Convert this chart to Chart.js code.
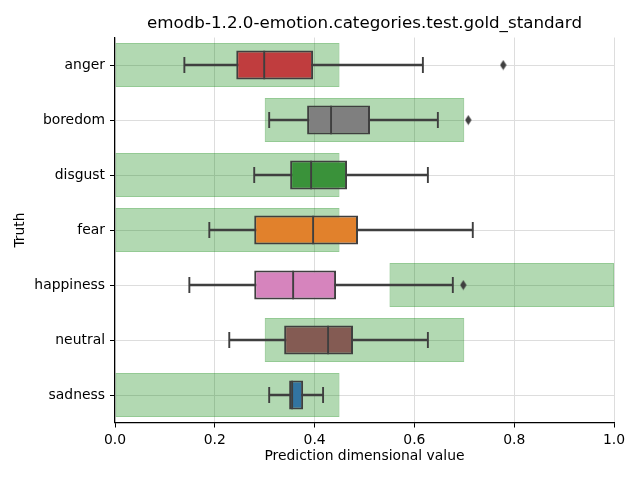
<!DOCTYPE html>
<html>
<head>
<meta charset="utf-8">
<script src="https://cdn.jsdelivr.net/npm/chart.js@4/dist/chart.umd.min.js"></script>
<style>
  html, body { margin: 0; padding: 0; background: #ffffff; }
  #wrap { width: 640px; height: 480px; }
</style>
</head>
<body>
<div id="wrap"><canvas id="c" width="640" height="480"></canvas></div>
<script>
// ---- data ----
const categories = ["anger", "boredom", "disgust", "fear", "happiness", "neutral", "sadness"];
const whiskerLow  = [0.139, 0.309, 0.279, 0.189, 0.149, 0.229, 0.309];
const q1          = [0.243, 0.385, 0.351, 0.279, 0.279, 0.339, 0.349];
const median      = [0.299, 0.433, 0.393, 0.397, 0.357, 0.427, 0.355];
const q3          = [0.397, 0.511, 0.465, 0.487, 0.443, 0.477, 0.377];
const whiskerHigh = [0.617, 0.647, 0.627, 0.717, 0.677, 0.627, 0.417];
const outlierCats = ["anger", "boredom", "happiness"];
const outlierVals = [0.778, 0.708, 0.698];
const bandStart   = [0.0, 0.3, 0.0, 0.0, 0.55, 0.3, 0.0];
const bandEnd     = [0.45, 0.7, 0.45, 0.45, 1.0, 0.7, 0.45];
const xTicks      = [0.0, 0.2, 0.4, 0.6, 0.8, 1.0];

// ---- styles ----
const boxColors = ["#c03d3e", "#7f7f7f", "#3a923a", "#e1812c", "#d684bd", "#845b53", "#3274a1"];
const edge = "#3f3f3f";
const FONT = "'DejaVu Sans', sans-serif";

// thin diamond marker for outliers
const diamond = document.createElement('canvas');
diamond.width = 7; diamond.height = 11;
(function () {
  const g = diamond.getContext('2d');
  g.fillStyle = edge;
  g.beginPath();
  g.moveTo(3.5, 0.5); g.lineTo(6.7, 5.5); g.lineTo(3.5, 10.5); g.lineTo(0.3, 5.5);
  g.closePath(); g.fill();
})();

const datasets = [
  {
    type: 'bar', label: 'band', order: 10, grouped: false,
    data: categories.map((c, i) => [bandStart[i], bandEnd[i]]),
    backgroundColor: 'rgba(0,128,0,0.3)', borderColor: 'rgba(0,128,0,0.42)',
    borderWidth: 1, borderSkipped: false,
    barPercentage: 0.8, categoryPercentage: 1.0
  },
  {
    type: 'bar', label: 'whisker', order: 6, grouped: false,
    data: categories.map((c, i) => [whiskerLow[i], whiskerHigh[i]]),
    backgroundColor: edge, borderWidth: 0, barThickness: 1.8
  },
  {
    type: 'bar', label: 'box', order: 5, grouped: false,
    data: categories.map((c, i) => [q1[i], q3[i]]),
    backgroundColor: boxColors, borderColor: edge, borderWidth: 2, borderSkipped: false,
    barPercentage: 0.53, categoryPercentage: 1.0
  },
  {
    type: 'scatter', label: 'median', order: 3,
    data: categories.map((c, i) => ({ x: median[i], y: c })),
    pointStyle: 'line', rotation: 90, radius: 14.3, borderColor: edge, borderWidth: 1.9,
    backgroundColor: edge
  },
  {
    type: 'scatter', label: 'capLow', order: 3,
    data: categories.map((c, i) => ({ x: whiskerLow[i], y: c })),
    pointStyle: 'line', rotation: 90, radius: 8, borderColor: edge, borderWidth: 1.9
  },
  {
    type: 'scatter', label: 'capHigh', order: 3,
    data: categories.map((c, i) => ({ x: whiskerHigh[i], y: c })),
    pointStyle: 'line', rotation: 90, radius: 8, borderColor: edge, borderWidth: 1.9
  },
  {
    type: 'scatter', label: 'outliers', order: 2,
    data: outlierCats.map((c, i) => ({ x: outlierVals[i], y: c })),
    pointStyle: diamond, radius: 5
  }
];

new Chart(document.getElementById('c'), {
  type: 'bar',
  data: { labels: categories, datasets: datasets },
  options: {
    indexAxis: 'y',
    responsive: false,
    animation: false,
    events: [],
    layout: { padding: { left: 0, right: 26, top: 0, bottom: 0 } },
    plugins: {
      legend: { display: false },
      tooltip: { enabled: false },
      title: {
        display: true, fullSize: false,
        text: 'emodb-1.2.0-emotion.categories.test.gold_standard',
        color: '#000000',
        font: { family: FONT, size: 16.7, weight: 'normal', lineHeight: 1.2 },
        padding: { top: 13.3, bottom: 4.2 }
      }
    },
    scales: {
      x: {
        type: 'linear', min: 0, max: 1,
        afterBuildTicks: (s) => { s.ticks = xTicks.map(v => ({ value: v })); },
        afterFit: (s) => { s.height = 57.5; },
        ticks: {
          color: '#000000', padding: 5,
          font: { family: FONT, size: 13.9 },
          callback: (v) => Number(v).toFixed(1)
        },
        grid: { color: '#dddddd', lineWidth: 1, tickLength: 5, tickColor: '#000000', tickWidth: 1 },
        border: { display: true, color: '#000000', width: 1.2 },
        title: {
          display: true, text: 'Prediction dimensional value', color: '#000000',
          font: { family: FONT, size: 13.9, lineHeight: 1.2 },
          padding: { top: 0, bottom: 15 }
        }
      },
      y: {
        type: 'category',
        offset: true,
        afterFit: (s) => { s.width = 115; },
        ticks: { color: '#000000', padding: 5, font: { family: FONT, size: 13.9 } },
        grid: { offset: false, color: '#dddddd', lineWidth: 1, tickLength: 5, tickColor: '#000000', tickWidth: 1 },
        border: { display: true, color: '#000000', width: 1.2 },
        title: {
          display: true, text: 'Truth', color: '#000000',
          font: { family: FONT, size: 13.9, lineHeight: 1.2 },
          padding: { top: 11.7, bottom: 0 }
        }
      }
    }
  }
});
</script>
</body>
</html>
